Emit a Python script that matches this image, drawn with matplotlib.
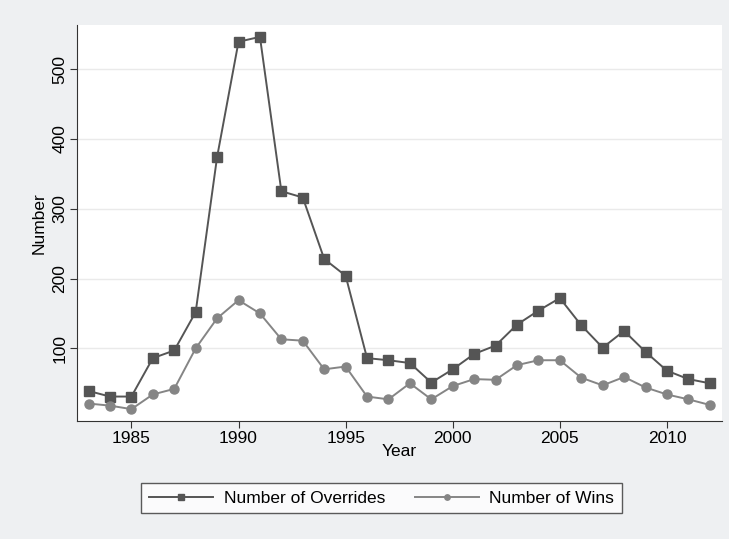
import matplotlib
matplotlib.use("Agg")
import matplotlib.pyplot as plt

plt.rcParams["font.family"] = ["Liberation Sans", "DejaVu Sans"]

years = list(range(1983, 2013))
overrides = [39, 31, 31, 86, 97, 152, 374, 539, 546, 325, 316, 228, 204, 86, 83,
             79, 51, 70, 92, 104, 134, 154, 172, 133, 101, 125, 95, 68, 56, 50]
wins = [21, 18, 13, 34, 42, 100, 143, 169, 150, 113, 111, 70, 74, 31, 27,
        50, 27, 46, 56, 55, 76, 83, 83, 58, 47, 59, 44, 34, 27, 19]

xticks = [1985, 1990, 1995, 2000, 2005, 2010]
yticks = [100, 200, 300, 400, 500]

bg = "#eef0f2"
fs = 12.5
fig = plt.figure(figsize=(7.29, 5.39), dpi=100, facecolor=bg)
ax = fig.add_axes([77 / 729, 1 - 421 / 539, 645 / 729, 396 / 539])

ax.plot(years, overrides, color="#555555", lw=1.4, marker="s", ms=6.5,
        label="Number of Overrides")
ax.plot(years, wins, color="#858585", lw=1.4, marker="o", ms=6.5,
        label="Number of Wins")

ax.set_xlim(1982.46, 2012.57)
ax.set_ylim(-4, 563)
ax.set_xticks(xticks)
ax.set_yticks(yticks)
ax.set_yticklabels([str(v) for v in yticks], rotation=90, va="center")
ax.tick_params(labelsize=fs, length=5, color="#333333", pad=2)
ax.grid(axis="y", color="#eaeaea", lw=1)
ax.set_axisbelow(True)
for s in ["top", "right"]:
    ax.spines[s].set_visible(False)
ax.spines["left"].set_color("#333333")
ax.spines["bottom"].set_color("#333333")

ax.set_xlabel("Year", fontsize=fs, labelpad=-1)
ax.set_ylabel("Number", fontsize=fs, labelpad=4)

leg = fig.legend(loc="center", bbox_to_anchor=(381.5 / 729, 1 - 498 / 539),
                 ncol=2, fontsize=fs, frameon=True, fancybox=False,
                 edgecolor="#333333", handlelength=3.7, handletextpad=0.6,
                 columnspacing=1.7, borderpad=0.45, markerscale=0.6)
leg.get_frame().set_linewidth(1)

fig.savefig("out.png", dpi=100, facecolor=bg)
